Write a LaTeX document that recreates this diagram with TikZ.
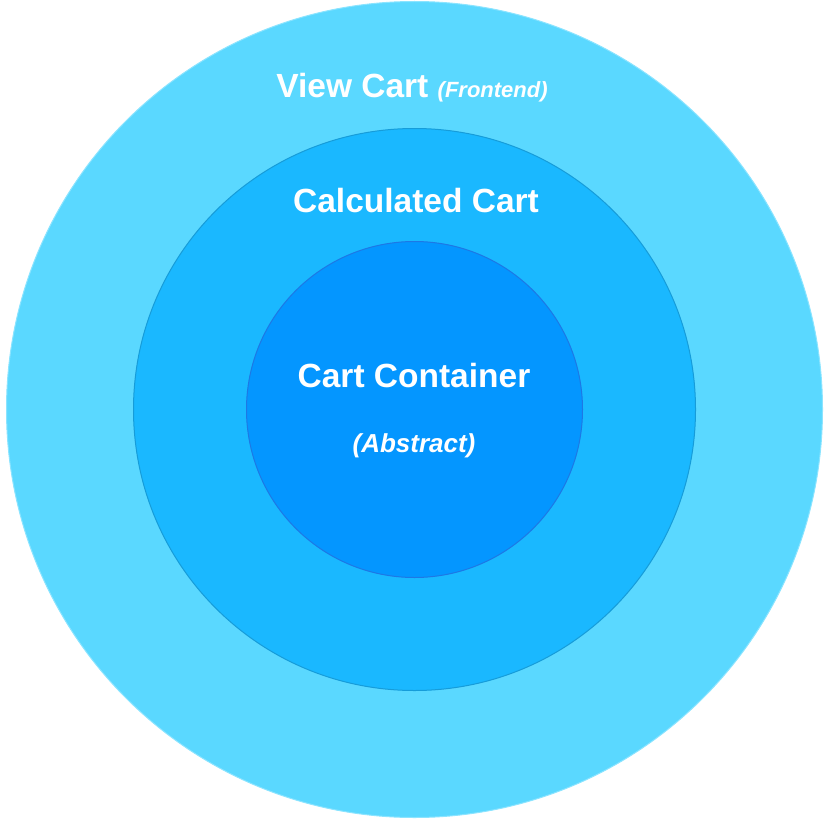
\documentclass[tikz,border=0pt]{standalone}
\usepackage{fontspec}
\setmainfont{Liberation Sans}
\usepackage{xcolor}
\usepackage{tikz}
\usetikzlibrary{positioning}
\definecolor{viewblue}{RGB}{90,216,255}
\definecolor{calcblue}{RGB}{26,184,255}
\definecolor{coreblue}{RGB}{4,150,255}
\tikzset{layer/.style = {circle,inner sep=0pt,line width=1pt}}

\begin{document}
\begin{tikzpicture}[x=1pt,y=-1pt,label text/.style={text=white,font=\bfseries\fontsize{33.5}{38}\selectfont,inner sep=0pt,anchor=base}]
                \useasboundingbox (0,0) rectangle (829,824);
                \node[layer,fill=viewblue,draw=viewblue!70!white,minimum size=816pt] (view) at (414.5,409.5) {};
                \node[layer,fill=calcblue,draw=calcblue!85!black,minimum size=562pt] (calc) at (view.center) {};
                \node[layer,fill=coreblue,draw=coreblue!80!violet,minimum size=336pt] (core) at (view.center) {};

                \node[label text] (viewtext) at (412,98) {View Cart \fontsize{22}{26}\selectfont\itshape(Frontend)};
                \node[label text] (calctext) at (416,212) {Calculated Cart};
                \node[label text] (coretext) at (414,387) {Cart Container};
                \node[label text,font=\bfseries\itshape\fontsize{26}{30}\selectfont] (abstract) at (414,452) {(Abstract)};
            \end{tikzpicture}
\end{document}
